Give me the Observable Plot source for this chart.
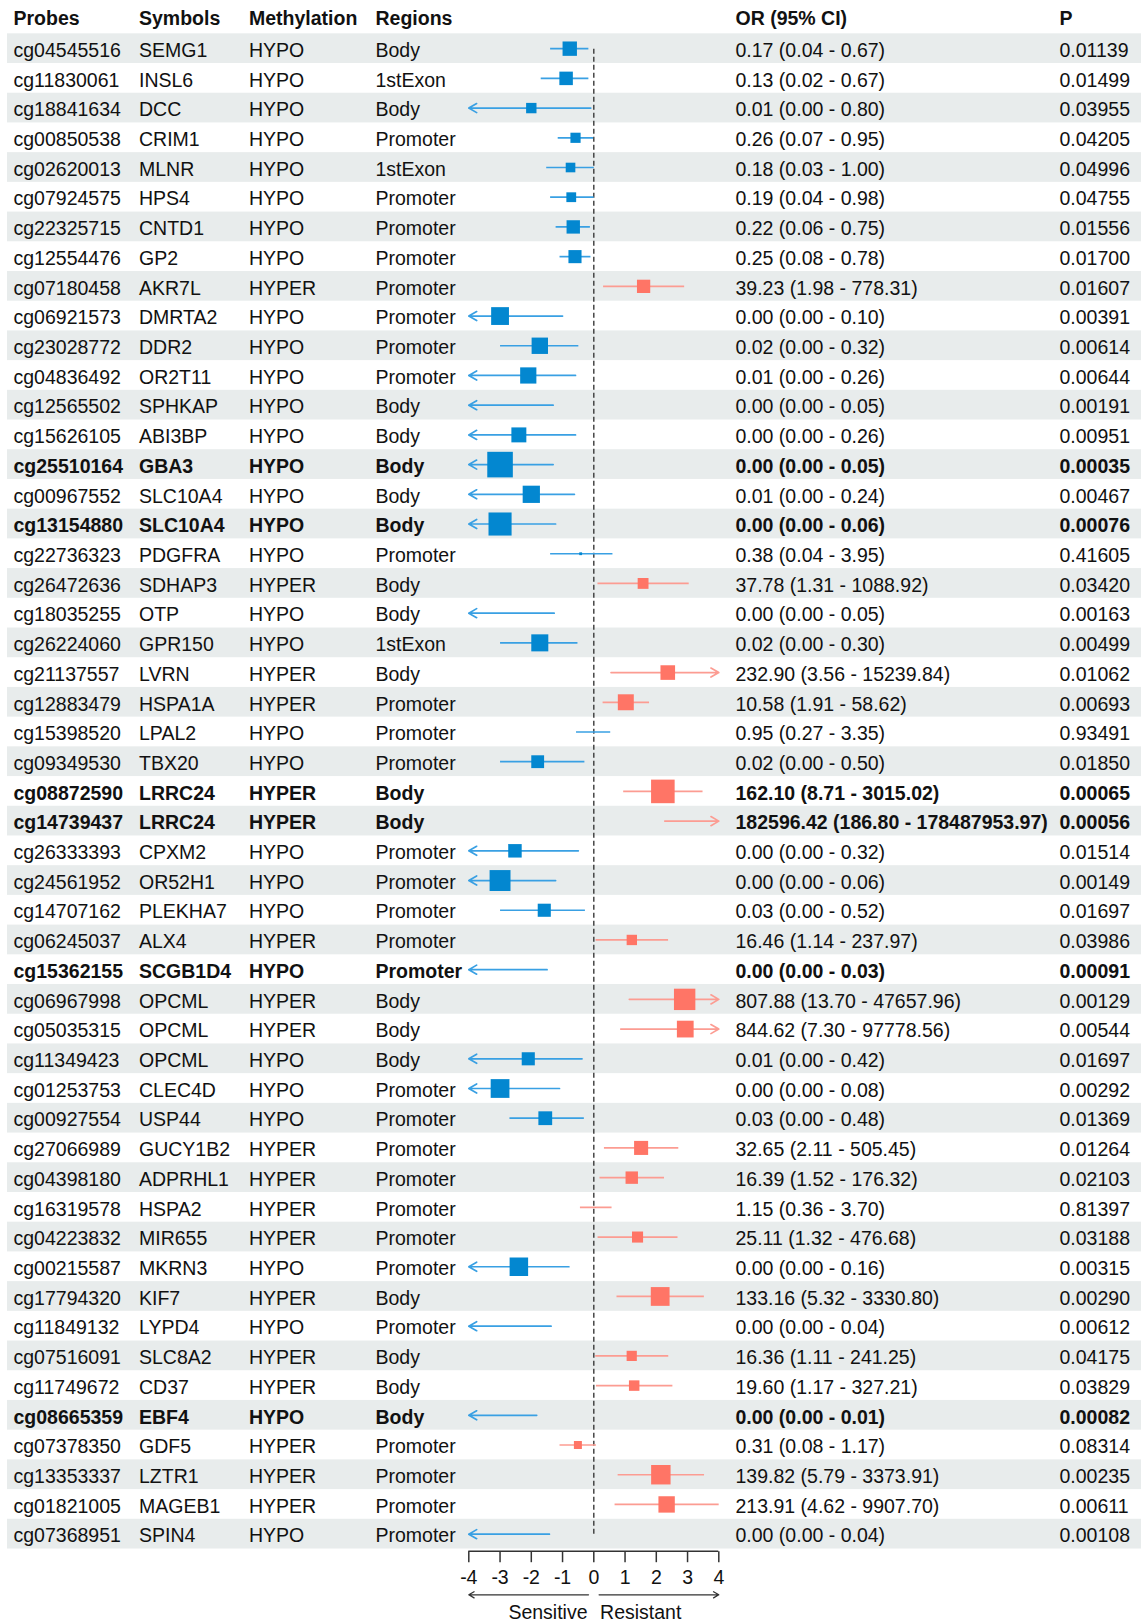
<!DOCTYPE html>
<html><head><meta charset="utf-8">
<script src="https://cdn.jsdelivr.net/npm/d3@7"></script>
<script src="https://cdn.jsdelivr.net/npm/@observablehq/plot@0.6"></script>
<style>
body{margin:0;background:#fff;}
#chart svg{display:block;}
</style></head><body><div id="chart"></div>
<script>
// ---------------- data ----------------
const probes = ["cg04545516","cg11830061","cg18841634","cg00850538","cg02620013","cg07924575","cg22325715","cg12554476","cg07180458","cg06921573","cg23028772","cg04836492","cg12565502","cg15626105","cg25510164","cg00967552","cg13154880","cg22736323","cg26472636","cg18035255","cg26224060","cg21137557","cg12883479","cg15398520","cg09349530","cg08872590","cg14739437","cg26333393","cg24561952","cg14707162","cg06245037","cg15362155","cg06967998","cg05035315","cg11349423","cg01253753","cg00927554","cg27066989","cg04398180","cg16319578","cg04223832","cg00215587","cg17794320","cg11849132","cg07516091","cg11749672","cg08665359","cg07378350","cg13353337","cg01821005","cg07368951"];
const symbols = ["SEMG1","INSL6","DCC","CRIM1","MLNR","HPS4","CNTD1","GP2","AKR7L","DMRTA2","DDR2","OR2T11","SPHKAP","ABI3BP","GBA3","SLC10A4","SLC10A4","PDGFRA","SDHAP3","OTP","GPR150","LVRN","HSPA1A","LPAL2","TBX20","LRRC24","LRRC24","CPXM2","OR52H1","PLEKHA7","ALX4","SCGB1D4","OPCML","OPCML","OPCML","CLEC4D","USP44","GUCY1B2","ADPRHL1","HSPA2","MIR655","MKRN3","KIF7","LYPD4","SLC8A2","CD37","EBF4","GDF5","LZTR1","MAGEB1","SPIN4"];
const methylation = ["HYPO","HYPO","HYPO","HYPO","HYPO","HYPO","HYPO","HYPO","HYPER","HYPO","HYPO","HYPO","HYPO","HYPO","HYPO","HYPO","HYPO","HYPO","HYPER","HYPO","HYPO","HYPER","HYPER","HYPO","HYPO","HYPER","HYPER","HYPO","HYPO","HYPO","HYPER","HYPO","HYPER","HYPER","HYPO","HYPO","HYPO","HYPER","HYPER","HYPER","HYPER","HYPO","HYPER","HYPO","HYPER","HYPER","HYPO","HYPER","HYPER","HYPER","HYPO"];
const regions = ["Body","1stExon","Body","Promoter","1stExon","Promoter","Promoter","Promoter","Promoter","Promoter","Promoter","Promoter","Body","Body","Body","Body","Body","Promoter","Body","Body","1stExon","Body","Promoter","Promoter","Promoter","Body","Body","Promoter","Promoter","Promoter","Promoter","Promoter","Body","Body","Body","Promoter","Promoter","Promoter","Promoter","Promoter","Promoter","Promoter","Body","Promoter","Body","Body","Body","Promoter","Promoter","Promoter","Promoter"];
const orValues = [0.17,0.13,0.01,0.26,0.18,0.19,0.22,0.25,39.23,0.001,0.0187,0.008,0.00005,0.004,0.001,0.01,0.001,0.38,37.78,0.00005,0.0187,232.90,10.58,0.95,0.016,162.10,182596.42,0.003,0.001,0.026,16.46,0.00003,807.88,844.62,0.008,0.001,0.028,32.65,16.39,1.15,25.11,0.004,133.16,0.00004,16.36,19.60,0.00002,0.31,139.82,213.91,0.00004];
const ciLower = [0.04,0.02,0.00001,0.07,0.03,0.04,0.06,0.08,1.98,0.000001,0.001,0.000001,0.0000001,0.000001,0.000001,0.000001,0.000001,0.04,1.31,0.0000001,0.001,3.56,1.91,0.27,0.001,8.71,186.80,0.000001,0.000001,0.001,1.14,0.0000001,13.70,7.30,0.000001,0.000001,0.002,2.11,1.52,0.36,1.32,0.000001,5.32,0.0000001,1.11,1.17,0.00000001,0.08,5.79,4.62,0.0000001];
const ciUpper = [0.67,0.67,0.80,0.95,1.00,0.98,0.75,0.78,778.31,0.10,0.32,0.26,0.05,0.26,0.05,0.24,0.06,3.95,1088.92,0.054,0.30,15239.84,58.62,3.35,0.50,3015.02,178487953.97,0.32,0.06,0.52,237.97,0.032,47657.96,97778.56,0.42,0.08,0.48,505.45,176.32,3.70,476.68,0.16,3330.80,0.043,241.25,327.21,0.0149,1.17,3373.91,9907.70,0.038];
const pValues = [0.01139,0.01499,0.03955,0.04205,0.04996,0.04755,0.01556,0.01700,0.01607,0.00391,0.00614,0.00644,0.00191,0.00951,0.00035,0.00467,0.00076,0.41605,0.03420,0.00163,0.00499,0.01062,0.00693,0.93491,0.01850,0.00065,0.00056,0.01514,0.00149,0.01697,0.03986,0.00091,0.00129,0.00544,0.01697,0.00292,0.01369,0.01264,0.02103,0.81397,0.03188,0.00315,0.00290,0.00612,0.04175,0.03829,0.00082,0.08314,0.00235,0.00611,0.00108];
const headers = ["Probes","Symbols","Methylation","Regions","OR (95% CI)","P"];
const xTicks = [-4,-3,-2,-1,0,1,2,3,4];
const directionLabels = ["Sensitive","Resistant"];

// ---------------- layout / style ----------------
const W = 1141;
const FONT = "'Liberation Sans', Arial, sans-serif";
const FS = 19.5;
const colX = [13, 138.5, 248.5, 375, 735, 1059];
const marginLeft = 7;
const plotRange = [468.3, 718.3];
const rowRange = [3.6, 1548.5];
const mainH = 1549, axisH = 72;
const axisLanes = {line: 1.7, tick: 12.7, label: 28.5, arrow: 45.3, caption: 63};
const boxScale = 7.4;
const colors = {HYPO: {box: "#0387d0", line: "#39a0e3"}, HYPER: {box: "#ff7566", line: "#fc9c92"}};
const stripe = "#e8ecec";
const ink = "#111";
const rowTextDy = 2;
const dirGap = 0.17, labelGap = 0.2;

// ---------------- build ----------------
const rows = probes.map((probe, i) => {
  const d = {i, probe, symbol: symbols[i], meth: methylation[i], region: regions[i],
    or: orValues[i], lo: ciLower[i], hi: ciUpper[i], p: pValues[i]};
  d.lx = Math.log10(d.or); d.llo = Math.log10(d.lo); d.lhi = Math.log10(d.hi);
  d.orText = `${d.or.toFixed(2)} (${d.lo.toFixed(2)} - ${d.hi.toFixed(2)})`;
  d.pText = d.p.toFixed(5);
  d.bold = d.p < 0.001;
  d.size = boxScale * -Math.log10(d.p);
  return d;
});
const [xMin, xMax] = d3.extent(xTicks);
const fields = ["probe","symbol","meth","region","orText","pText"];

const marks = [];
marks.push(Plot.cell(rows.filter(d => d.i % 2 === 0), {y: "i", fill: stripe}));
headers.forEach((h, k) => {
  marks.push(Plot.text([h], {y: () => "H", text: d => d, frameAnchor: "left", dx: colX[k] - marginLeft,
    textAnchor: "start", fontSize: FS, fontWeight: "bold", fill: ink, fontFamily: FONT}));
});
fields.forEach((f, k) => {
  for (const bold of [false, true]) {
    marks.push(Plot.text(rows.filter(d => d.bold === bold), {y: "i", text: f, frameAnchor: "left",
      dx: colX[k] - marginLeft, dy: rowTextDy, textAnchor: "start", fontSize: FS, fontWeight: bold ? "bold" : "normal",
      fill: ink, fontFamily: FONT}));
  }
});
// reference line at 0
marks.push(Plot.link([0], {x1: d => d, x2: d => d, y1: () => rows[0].i, y2: () => rows[rows.length - 1].i,
  stroke: "#3a3a3a", strokeWidth: 1.4, strokeDasharray: "5,3"}));
for (const g of ["HYPO", "HYPER"]) {
  const gr = rows.filter(d => d.meth === g);
  const c = colors[g];
  marks.push(Plot.link(gr.filter(d => d.llo >= xMin && d.lhi <= xMax), {x1: "llo", x2: "lhi", y1: "i", y2: "i",
    stroke: c.line, strokeWidth: 1.7}));
  marks.push(Plot.arrow(gr.filter(d => d.llo < xMin), {x1: d => Math.min(d.lhi, xMax), x2: () => xMin, y1: "i", y2: "i",
    stroke: c.line, strokeWidth: 1.7, headLength: 8, headAngle: 60}));
  marks.push(Plot.arrow(gr.filter(d => d.lhi > xMax), {x1: d => Math.max(d.llo, xMin), x2: () => xMax, y1: "i", y2: "i",
    stroke: c.line, strokeWidth: 1.7, headLength: 8, headAngle: 60}));
  marks.push(Plot.dot(gr.filter(d => d.lx >= xMin && d.lx <= xMax), {x: "lx", y: "i", symbol: "square",
    r: d => d.size / Math.sqrt(Math.PI), fill: c.box}));
}

const main = Plot.plot({
  width: W, height: mainH, marginLeft, marginRight: 0, marginTop: 0, marginBottom: 0,
  x: {domain: [xMin, xMax], range: plotRange, axis: null},
  y: {type: "band", domain: ["H", ...rows.map(d => d.i)], range: rowRange, padding: 0, round: false, axis: null},
  r: {type: "identity"},
  style: {fontFamily: FONT, background: "white", overflow: "visible"},
  marks
});

const axis = Plot.plot({
  width: W, height: axisH, marginLeft: 0, marginRight: 0, marginTop: 0, marginBottom: 0,
  x: {domain: [xMin, xMax], range: plotRange, axis: null},
  y: {type: "identity", axis: null},
  style: {fontFamily: FONT, background: "white", overflow: "visible"},
  marks: [
    Plot.ruleY([axisLanes.line], {y: d => d, x1: () => xMin, x2: () => xMax, stroke: "#333", strokeWidth: 1.5}),
    Plot.link(xTicks, {x1: d => d, x2: d => d, y1: () => axisLanes.line, y2: () => axisLanes.tick, stroke: "#333", strokeWidth: 1.5}),
    Plot.text(xTicks, {x: d => d, y: () => axisLanes.label, text: d => String(d), fontSize: FS, fill: ink, fontFamily: FONT}),
    Plot.arrow([0], {x1: () => -dirGap, x2: () => xMin, y1: () => axisLanes.arrow, y2: () => axisLanes.arrow, stroke: "#333", strokeWidth: 1.3, headLength: 7, headAngle: 60}),
    Plot.arrow([0], {x1: () => dirGap, x2: () => xMax, y1: () => axisLanes.arrow, y2: () => axisLanes.arrow, stroke: "#333", strokeWidth: 1.3, headLength: 7, headAngle: 60}),
    Plot.text([directionLabels[0]], {x: () => -labelGap, y: () => axisLanes.caption, text: d => d, textAnchor: "end", fontSize: FS, fill: ink, fontFamily: FONT}),
    Plot.text([directionLabels[1]], {x: () => labelGap, y: () => axisLanes.caption, text: d => d, textAnchor: "start", fontSize: FS, fill: ink, fontFamily: FONT})
  ]
});

document.getElementById("chart").append(main, axis);
</script>
</body></html>
